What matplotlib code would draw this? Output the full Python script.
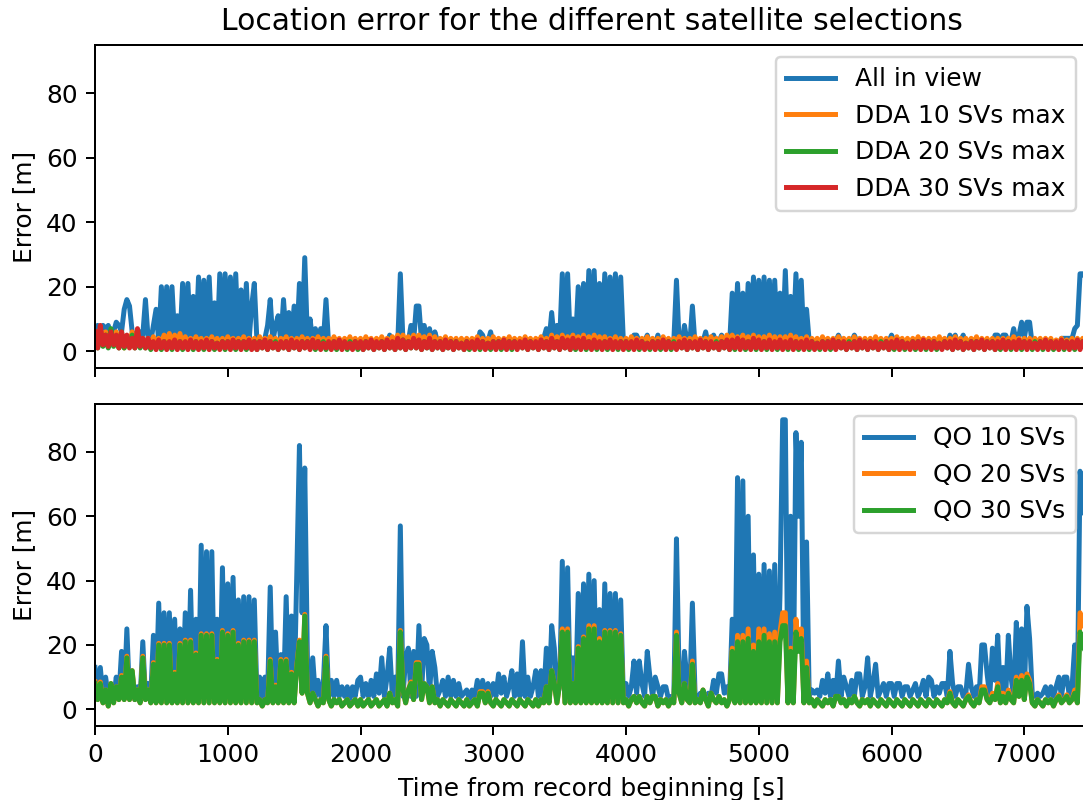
import numpy as np
import matplotlib.pyplot as plt

# Sampling interval of the logged solutions [s]
t_step = 20

# Upper panel: DOP-driven selections (DDA) vs all satellites in view
all_in_view = [
    7, 8, 6, 8, 7, 8, 5, 6, 9, 8, 6, 13, 16, 14, 6, 5, 4, 6, 5, 16,
    4, 3, 8, 13, 3, 20, 4, 20, 3, 20, 4, 11, 3, 21, 4, 21, 3, 17, 3, 23,
    2, 22, 3, 23, 4, 15, 2, 24, 3, 24, 3, 23, 2, 24, 3, 19, 3, 21, 3, 14,
    21, 3, 3, 3, 4, 8, 16, 3, 8, 11, 3, 16, 4, 12, 3, 14, 3, 21, 4, 29,
    4, 10, 3, 7, 3, 7, 3, 16, 2, 3, 2, 3, 2, 3, 2, 3, 2, 3, 2, 3,
    2, 3, 2, 3, 2, 3, 2, 3, 2, 3, 2, 5, 2, 3, 2, 24, 3, 2, 3, 8,
    3, 14, 14, 3, 8, 3, 7, 2, 6, 3, 2, 3, 2, 3, 2, 3, 2, 3, 2, 3,
    2, 3, 2, 3, 2, 6, 5, 2, 3, 6, 2, 3, 2, 3, 2, 3, 2, 3, 2, 3,
    2, 3, 2, 3, 2, 3, 2, 3, 2, 4, 7, 3, 12, 3, 8, 3, 24, 3, 24, 3,
    10, 3, 20, 3, 21, 3, 25, 3, 25, 3, 21, 3, 24, 3, 23, 3, 24, 3, 23, 3,
    2, 3, 2, 5, 5, 3, 2, 3, 5, 2, 3, 2, 5, 2, 3, 2, 3, 2, 3, 22,
    3, 2, 8, 3, 2, 14, 2, 3, 2, 3, 6, 2, 4, 5, 2, 3, 5, 2, 3, 2,
    18, 3, 21, 3, 18, 3, 21, 3, 23, 3, 22, 3, 23, 3, 22, 3, 22, 3, 18, 3,
    25, 3, 17, 3, 24, 3, 22, 3, 13, 3, 2, 3, 2, 3, 2, 3, 2, 3, 2, 3,
    5, 3, 2, 3, 2, 3, 5, 3, 2, 3, 2, 3, 2, 3, 2, 3, 2, 3, 2, 3,
    5, 3, 2, 3, 2, 3, 2, 3, 2, 3, 3, 2, 3, 2, 3, 2, 3, 2, 3, 2,
    3, 2, 5, 3, 5, 2, 3, 5, 2, 3, 2, 3, 2, 3, 2, 3, 2, 3, 2, 5,
    5, 3, 5, 5, 3, 3, 7, 3, 5, 9, 4, 9, 9, 2, 3, 2, 3, 2, 3, 2,
    3, 2, 3, 2, 4, 4, 4, 4, 4, 7, 8, 24, 24, 23, 22,
]

dda_10 = [
    5, 2, 7, 2, 6, 1.5, 5, 2, 6, 1.5, 5, 1, 4, 2, 6, 1.5, 5, 2, 4, 1.5,
    4, 1.5, 4.5, 2, 4, 1.5, 5, 2, 5.5, 1.5, 5, 2, 5.5, 1.5, 4.5, 2, 4, 1.5, 4.5, 2,
    4, 1.5, 4, 2, 4.5, 1.5, 4, 2, 4, 1.5, 4.5, 2, 4, 1.5, 4, 2, 4.5, 1.5, 4, 2,
    4, 1.5, 4.5, 2, 4, 1.5, 4.5, 2, 4, 1.5, 4, 2, 4.5, 1.5, 4, 2, 4, 1.5, 4.5, 2,
    4, 1.5, 4, 2, 4.5, 1.5, 4, 2, 4, 1.5, 4.5, 2, 4, 1.5, 4, 2, 4.5, 1.5, 4, 2,
    4, 1.5, 4.5, 2, 4, 1.5, 4, 2, 4.5, 1.5, 4, 2, 4.5, 1.5, 5, 2, 5, 1.5, 4.5, 2,
    5, 1.5, 5, 2, 4.5, 1.5, 5, 2, 4.5, 1.5, 4, 2, 4.5, 1.5, 4, 2, 4, 1.5, 4, 2,
    4, 1.5, 4, 2, 4.5, 1.5, 4, 2, 4, 1.5, 4.5, 2, 4, 1.5, 4, 2, 4.5, 1.5, 4, 2,
    4, 1.5, 4.5, 2, 4, 1.5, 4, 2, 4.5, 1.5, 4, 2, 5, 1.5, 4.5, 2, 5, 1.5, 4.5, 2,
    5, 1.5, 4.5, 2, 5, 1.5, 4.5, 2, 5, 1.5, 4.5, 2, 4.5, 1.5, 4, 2, 4.5, 1.5, 4, 2,
    4, 1.5, 4.5, 2, 4, 1.5, 4, 2, 4.5, 1.5, 4, 2, 4, 1.5, 4.5, 2, 4, 1.5, 4, 2,
    4.5, 1.5, 4, 2, 4, 1.5, 4.5, 2, 4, 1.5, 4, 2, 4.5, 1.5, 4, 2, 4.5, 1.5, 5, 2,
    5, 1.5, 4.5, 2, 5, 1.5, 4.5, 2, 5, 1.5, 4.5, 2, 4.5, 1.5, 5, 2, 4.5, 1.5, 4.5, 2,
    4.5, 1.5, 5, 2, 4.5, 1.5, 4, 2, 4.5, 1.5, 4, 2, 4, 1.5, 4.5, 2, 4, 1.5, 4, 2,
    4.5, 1.5, 4, 2, 4, 1.5, 4.5, 2, 4, 1.5, 4, 2, 4, 1.5, 4.5, 2, 4, 1.5, 4, 2,
    4, 1.5, 4.5, 2, 4, 1.5, 4, 2, 4, 1.5, 4.5, 2, 4, 1.5, 4, 2, 4, 1.5, 4.5, 2,
    4, 1.5, 4, 2, 4.5, 1.5, 4, 2, 4, 1.5, 4, 2, 4.5, 1.5, 4, 2, 4, 1.5, 4, 2,
    4, 1.5, 4, 2, 4, 1.5, 4.5, 2, 4, 1.5, 4, 2, 4, 1.5, 4, 2, 4, 1.5, 4, 2,
    4, 1.5, 3.5, 2, 4, 1.5, 3.5, 2, 4, 1.5, 4, 2, 4, 1.5, 4,
]

dda_20 = [
    4, 1, 6, 1.5, 5, 1, 7, 1.5, 4, 1, 6, 1, 4, 1.5, 5, 1, 4, 1, 3, 1,
    3, 0.5, 2.5, 1, 3, 0.5, 3, 1, 2.5, 0.5, 3, 1, 3, 0.5, 2.5, 1, 3, 0.5, 3, 1,
    2.5, 0.5, 3, 1, 3, 0.5, 2.5, 1, 3, 0.5, 3, 1, 2.5, 0.5, 3, 1, 3, 0.5, 2.5, 1,
    3, 0.5, 3, 1, 2.5, 0.5, 3, 1, 3, 0.5, 2.5, 1, 3, 0.5, 3, 1, 2.5, 0.5, 3, 1,
    3, 1, 2.5, 0.5, 3, 1, 3, 0.5, 2.5, 1, 3, 0.5, 3, 1, 2.5, 0.5, 3, 1, 3, 0.5,
    2.5, 0.5, 3, 1, 3, 0.5, 2.5, 1, 3, 0.5, 3, 1, 2.5, 0.5, 3, 1, 3.5, 0.5, 3, 1,
    3.5, 1, 3, 0.5, 3, 1, 2.5, 0.5, 3, 1, 3, 0.5, 2.5, 1, 3, 0.5, 3, 1, 2.5, 0.5,
    3, 0.5, 2.5, 1, 3, 0.5, 3, 1, 2.5, 0.5, 3, 1, 3, 0.5, 2.5, 1, 3, 0.5, 3, 1,
    2.5, 1, 3, 0.5, 3, 1, 2.5, 0.5, 3, 1, 3, 0.5, 3.5, 1, 3, 0.5, 3.5, 1, 3, 0.5,
    3.5, 0.5, 3, 1, 3.5, 0.5, 3, 1, 3, 0.5, 2.5, 1, 3, 0.5, 3, 1, 2.5, 0.5, 3, 1,
    3, 0.5, 2.5, 1, 3, 0.5, 3, 1, 2.5, 0.5, 3, 1, 3, 0.5, 2.5, 1, 3, 0.5, 3, 1,
    2.5, 1, 3, 0.5, 3, 1, 2.5, 0.5, 3, 1, 3, 0.5, 2.5, 1, 3, 0.5, 3, 1, 3, 0.5,
    3, 0.5, 3.5, 1, 3, 0.5, 3, 1, 3.5, 0.5, 3, 1, 3, 0.5, 3, 1, 2.5, 0.5, 3, 1,
    2.5, 0.5, 3, 1, 3, 0.5, 2.5, 1, 3, 0.5, 3, 1, 2.5, 0.5, 3, 1, 3, 0.5, 2.5, 1,
    3, 1, 2.5, 0.5, 3, 1, 3, 0.5, 2.5, 1, 3, 0.5, 3, 1, 2.5, 0.5, 3, 1, 3, 0.5,
    2.5, 0.5, 3, 1, 3, 0.5, 2.5, 1, 3, 0.5, 3, 1, 2.5, 0.5, 3, 1, 3, 0.5, 2.5, 1,
    3, 1, 2.5, 0.5, 3, 1, 3, 0.5, 2.5, 1, 3, 0.5, 3, 1, 2.5, 0.5, 3, 1, 3, 0.5,
    2.5, 0.5, 3, 1, 3, 0.5, 2.5, 1, 3, 0.5, 3, 1, 2.5, 0.5, 3, 1, 3, 0.5, 2.5, 1,
    3, 0.5, 2.5, 1, 3, 0.5, 3, 1, 2.5, 0.5, 3, 1, 3, 0.5, 2.5,
]

dda_30 = [
    6, 1, 8, 2, 5, 1.5, 6, 2, 5, 1, 6, 1.5, 5, 1, 4, 1, 7, 1.5, 4, 1,
    4, 1, 3, 0.5, 3.5, 1, 3, 0.5, 3, 1, 3.5, 0.5, 3, 1, 3, 0.5, 3.5, 1, 3, 0.5,
    3, 1, 3.5, 0.5, 3, 1, 2.5, 0.5, 3, 1, 3, 0.5, 3.5, 1, 3, 0.5, 3, 1, 3.5, 0.5,
    3, 0.5, 3, 1, 3.5, 0.5, 3, 1, 2.5, 0.5, 3, 1, 3, 0.5, 3.5, 1, 3, 0.5, 3, 1,
    3, 0.5, 3.5, 1, 3, 0.5, 2.5, 1, 3, 0.5, 3, 1, 3.5, 0.5, 3, 1, 2.5, 0.5, 3, 1,
    3, 0.5, 3, 1, 3.5, 0.5, 3, 1, 3, 0.5, 3.5, 1, 3, 0.5, 4, 1, 3.5, 0.5, 3, 1,
    4, 1, 3.5, 0.5, 3, 1, 4, 0.5, 3, 1, 3, 0.5, 3.5, 1, 3, 0.5, 3, 1, 2.5, 0.5,
    3, 1, 3, 0.5, 3.5, 1, 3, 0.5, 2.5, 1, 3, 0.5, 3, 1, 3.5, 0.5, 3, 1, 3, 0.5,
    3, 1, 3.5, 0.5, 3, 1, 3, 0.5, 3.5, 1, 3, 0.5, 4, 1, 3, 0.5, 4, 1, 3.5, 0.5,
    4, 1, 3.5, 0.5, 4, 1, 3, 0.5, 3.5, 1, 3, 0.5, 3, 1, 3.5, 0.5, 3, 1, 3, 0.5,
    3, 1, 3, 0.5, 3.5, 1, 3, 0.5, 2.5, 1, 3, 0.5, 3, 1, 3.5, 0.5, 3, 1, 2.5, 0.5,
    3, 1, 3.5, 0.5, 3, 1, 3, 0.5, 3.5, 1, 3, 0.5, 3, 1, 2.5, 0.5, 3, 1, 3.5, 0.5,
    3.5, 1, 4, 0.5, 3.5, 1, 3, 0.5, 4, 1, 3.5, 0.5, 3, 1, 3.5, 0.5, 3, 1, 3.5, 0.5,
    3, 1, 3.5, 0.5, 3, 1, 3, 0.5, 3.5, 1, 3, 0.5, 2.5, 1, 3, 0.5, 3, 1, 3.5, 0.5,
    3, 1, 3, 0.5, 2.5, 1, 3, 0.5, 3.5, 1, 3, 0.5, 3, 1, 3, 0.5, 2.5, 1, 3, 0.5,
    3, 1, 3.5, 0.5, 3, 1, 2.5, 0.5, 3, 1, 3, 0.5, 3.5, 1, 3, 0.5, 3, 1, 2.5, 0.5,
    3, 1, 3, 0.5, 3.5, 1, 3, 0.5, 2.5, 1, 3, 0.5, 3, 1, 3.5, 0.5, 3, 1, 3, 0.5,
    3, 1, 3.5, 0.5, 3, 1, 3, 0.5, 3.5, 1, 3, 0.5, 3, 1, 2.5, 0.5, 3, 1, 3.5, 0.5,
    3, 1, 3, 0.5, 3.5, 1, 3, 0.5, 3, 1, 3.5, 0.5, 3, 1, 3,
]

# Lower panel: quality-optimised (QO) selections
qo_10 = [
    13, 5, 13, 4, 10, 4, 7, 3, 10, 4, 18, 4, 25, 4, 11, 3, 7, 3, 21, 4,
    8, 4, 23, 4, 33, 4, 30, 4, 30, 4, 28, 4, 25, 4, 30, 4, 37, 4, 28, 4,
    51, 4, 49, 4, 49, 4, 28, 4, 44, 4, 39, 4, 41, 4, 34, 4, 35, 4, 35, 4,
    34, 4, 10, 3, 10, 4, 38, 4, 24, 4, 17, 4, 35, 4, 29, 4, 42, 82, 30, 75,
    16, 5, 16, 4, 9, 4, 8, 26, 4, 9, 4, 9, 4, 7, 4, 7, 3, 7, 4, 9,
    10, 4, 8, 4, 9, 4, 11, 5, 16, 4, 10, 19, 4, 10, 4, 57, 4, 16, 19, 4,
    18, 4, 26, 5, 22, 20, 5, 18, 13, 4, 6, 9, 4, 10, 4, 9, 4, 8, 4, 5,
    6, 3, 6, 4, 9, 4, 9, 4, 8, 4, 8, 4, 11, 5, 10, 4, 7, 12, 4, 11,
    4, 21, 4, 10, 4, 7, 12, 4, 12, 4, 19, 4, 26, 19, 4, 7, 46, 4, 44, 4,
    16, 4, 36, 4, 39, 4, 42, 4, 40, 4, 31, 4, 39, 4, 36, 4, 36, 4, 34, 4,
    8, 4, 7, 15, 5, 15, 8, 4, 18, 10, 4, 10, 7, 4, 7, 7, 3, 4, 3, 53,
    10, 4, 18, 9, 4, 33, 5, 3, 5, 5, 4, 5, 4, 9, 5, 11, 11, 5, 7, 4,
    28, 4, 72, 5, 71, 4, 60, 4, 48, 4, 42, 4, 45, 4, 43, 4, 45, 4, 36, 90,
    90, 4, 60, 4, 86, 60, 83, 4, 52, 4, 6, 5, 6, 4, 9, 5, 11, 4, 9, 4,
    15, 4, 10, 7, 4, 9, 4, 11, 11, 4, 7, 16, 4, 8, 14, 4, 6, 8, 4, 8,
    8, 4, 8, 8, 4, 7, 7, 4, 6, 8, 4, 6, 9, 4, 10, 9, 4, 7, 5, 8,
    8, 4, 18, 8, 4, 7, 7, 4, 5, 14, 7, 4, 7, 4, 20, 20, 11, 4, 19, 9,
    23, 4, 13, 4, 23, 10, 4, 27, 10, 25, 4, 32, 22, 5, 4, 5, 4, 5, 7, 4,
    7, 4, 7, 10, 4, 10, 10, 4, 7, 20, 4, 74, 67, 55, 40,
]

qo_20 = [
    8.5, 3, 8.5, 2, 6, 1, 8, 2, 7, 3, 10.5, 3, 16.5, 3, 12, 3, 6, 2, 16.5, 3,
    6, 2, 14.5, 2, 20.5, 2, 20.5, 2, 20.5, 2, 11.5, 2, 20.5, 2, 21.5, 2, 21.5, 2, 17.5, 2,
    23.5, 2, 23.5, 2, 23.5, 2, 15.5, 2, 24.5, 2, 23.5, 2, 24.5, 2, 20.5, 2, 21.5, 2, 21.5, 2,
    21.5, 2, 3, 1, 3, 2, 15.5, 2, 7.5, 2, 15.5, 2, 15.5, 2, 11.5, 2, 13.5, 21.5, 5, 29.5,
    5, 2, 5, 3, 1, 3, 2, 16.5, 3, 1, 3, 2, 3, 1, 2, 3, 1, 2, 3, 1,
    3, 1, 2, 3, 1, 2, 3, 1, 2, 3, 1, 5, 2, 3, 1, 24.5, 6, 2, 6, 8.5,
    3, 14.5, 14.5, 3, 8, 7, 2, 7, 2, 3, 1, 3, 2, 1, 3, 2, 1, 3, 2, 1,
    3, 1, 2, 3, 1, 5.5, 5.5, 2, 5.5, 2, 1, 3, 2, 1, 3, 2, 1, 3, 2, 1,
    3, 2, 1, 3, 2, 1, 3, 1, 3, 2, 7, 2, 12, 8, 2, 8, 25, 2, 25, 2,
    8, 2, 19.5, 2, 22.5, 2, 26, 2, 26, 2, 22, 2, 24.5, 2, 24.5, 2, 24.5, 2, 23.5, 2,
    3, 1, 3, 4, 2, 4, 2, 1, 4, 2, 4, 4, 1, 3, 2, 3, 1, 3, 2, 24,
    5, 2, 8, 3, 2, 15, 2, 3, 2, 6, 3, 1, 5, 3, 2, 4, 2, 3, 1, 3,
    19, 2, 23, 2, 23, 2, 25, 2, 20, 2, 25, 2, 25, 2, 23.5, 2, 24, 2, 24, 30,
    30, 2, 19, 2, 28, 19, 25, 2, 15, 2, 3, 1, 3, 2, 1, 3, 2, 3, 1, 4,
    4, 2, 3, 1, 3, 2, 4, 2, 1, 3, 2, 3, 1, 3, 2, 1, 3, 2, 1, 3,
    2, 1, 3, 2, 1, 3, 2, 1, 3, 2, 1, 3, 2, 1, 3, 2, 1, 3, 2, 1,
    3, 2, 5.5, 2, 1, 3, 2, 1, 3, 4.5, 2, 1, 3, 2, 7, 7, 3, 2, 5, 3,
    8, 2, 5, 2, 6, 3, 2, 10, 4, 10.5, 3, 11, 9, 2, 1, 3, 2, 1, 3, 2,
    3, 1, 3, 4.5, 2, 3, 4.5, 2, 3, 6, 2, 30, 28, 24, 18,
]

qo_30 = [
    8, 3, 8, 2, 6, 1, 8, 2, 7, 3, 10, 3, 16, 3, 12, 3, 6, 2, 16, 3,
    6, 2, 14, 2, 20, 2, 20, 2, 20, 2, 11, 2, 20, 2, 21, 2, 21, 2, 17, 2,
    23, 2, 23, 2, 23, 2, 15, 2, 24, 2, 23, 2, 24, 2, 20, 2, 21, 2, 21, 2,
    21, 2, 3, 1, 3, 2, 15, 2, 7, 2, 15, 2, 15, 2, 11, 2, 13, 21, 5, 29,
    5, 2, 5, 3, 1, 3, 2, 16, 3, 1, 3, 2, 3, 1, 2, 3, 1, 2, 3, 1,
    3, 1, 2, 3, 1, 2, 3, 1, 2, 3, 1, 5, 2, 3, 1, 24, 6, 2, 6, 8,
    3, 14, 14, 3, 8, 7, 2, 7, 2, 3, 1, 3, 2, 1, 3, 2, 1, 3, 2, 1,
    3, 1, 2, 3, 1, 5, 5, 2, 5, 2, 1, 3, 2, 1, 3, 2, 1, 3, 2, 1,
    3, 2, 1, 3, 2, 1, 3, 1, 3, 2, 7, 2, 12, 8, 2, 8, 24, 2, 24, 2,
    8, 2, 19, 2, 22, 2, 25, 2, 25, 2, 21, 2, 24, 2, 24, 2, 24, 2, 23, 2,
    3, 1, 3, 4, 2, 4, 2, 1, 4, 2, 4, 4, 1, 3, 2, 3, 1, 3, 2, 23,
    5, 2, 8, 3, 2, 14, 2, 3, 2, 6, 3, 1, 5, 3, 2, 4, 2, 3, 1, 3,
    18, 2, 21, 2, 21, 2, 22, 2, 18, 2, 21, 2, 23, 2, 21, 2, 21, 2, 21, 26,
    26, 2, 18, 2, 24, 18, 22, 2, 13, 2, 3, 1, 3, 2, 1, 3, 2, 3, 1, 4,
    4, 2, 3, 1, 3, 2, 4, 2, 1, 3, 2, 3, 1, 3, 2, 1, 3, 2, 1, 3,
    2, 1, 3, 2, 1, 3, 2, 1, 3, 2, 1, 3, 2, 1, 3, 2, 1, 3, 2, 1,
    3, 2, 5, 2, 1, 3, 2, 1, 3, 4, 2, 1, 3, 2, 6, 6, 3, 2, 4, 3,
    7, 2, 4, 2, 5, 3, 2, 9, 4, 9, 3, 10, 8, 2, 1, 3, 2, 1, 3, 2,
    3, 1, 3, 4, 2, 3, 4, 2, 3, 5, 2, 24, 20, 18, 14,
]

top_labels = ["All in view", "DDA 10 SVs max", "DDA 20 SVs max", "DDA 30 SVs max"]
bottom_labels = ["QO 10 SVs", "QO 20 SVs", "QO 30 SVs"]
x_ticks = [0, 1000, 2000, 3000, 4000, 5000, 6000, 7000]
y_ticks = [0, 20, 40, 60, 80]

t = np.arange(len(all_in_view)) * t_step

W, H, DPI = 1083, 800, 179
fig = plt.figure(figsize=(W / DPI, H / DPI), dpi=DPI)
# The record runs slightly past the right edge of the canvas
left = 95 / W
width = (1088 - 95) / W
ax1 = fig.add_axes([left, 1 - 368 / H, width, (368 - 45) / H])
ax2 = fig.add_axes([left, 1 - 726 / H, width, (726 - 404) / H],
                   sharex=ax1, sharey=ax1)

lw = 2.0
for series, label in zip([all_in_view, dda_10, dda_20, dda_30], top_labels):
    ax1.plot(t, series, label=label, lw=lw)
for series, label in zip([qo_10, qo_20, qo_30], bottom_labels):
    ax2.plot(t, series, label=label, lw=lw)

ax1.set_xlim(t[0], t[-1])
ax1.set_ylim(-5.2, 94.9)
ax1.set_xticks(x_ticks)
ax1.set_yticks(y_ticks)
ax1.tick_params(labelbottom=False)

ax1.set_title("Location error for the different satellite selections")
ax1.set_ylabel("Error [m]")
ax2.set_ylabel("Error [m]")
ax2.set_xlabel("Time from record beginning [s]")

ax1.legend(loc="upper right")
ax2.legend(loc="upper right")

fig.savefig("out.png", dpi=DPI)
